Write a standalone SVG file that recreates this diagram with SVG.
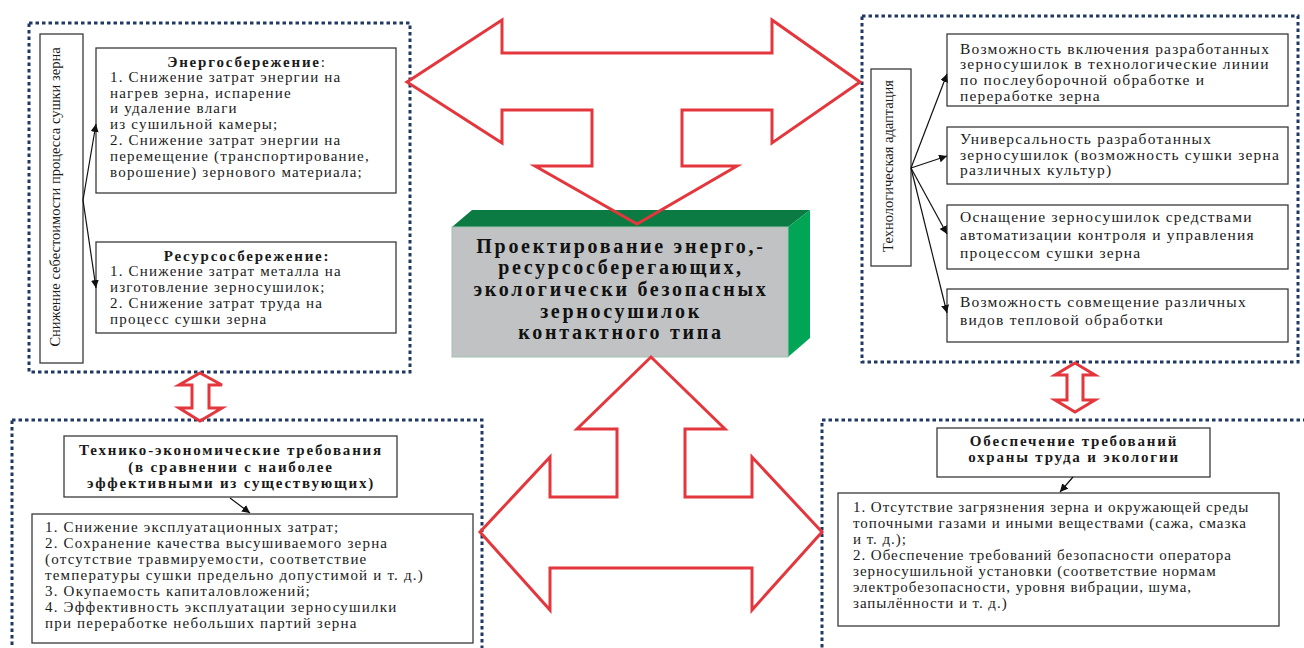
<svg xmlns="http://www.w3.org/2000/svg" width="1304" height="648" viewBox="0 0 1304 648">
<style>
.panel{fill:none;stroke:#1f3864;stroke-width:3;stroke-dasharray:3.5 3}
.box{fill:#fff;stroke:#3a3a3a;stroke-width:1.3}
.t{font-family:"Liberation Serif","Times New Roman",serif;font-size:15px;letter-spacing:1.2px;fill:#1a1a1a}
.ts{font-family:"Liberation Serif","Times New Roman",serif;font-size:15px;letter-spacing:0.95px;fill:#1a1a1a}
.tr{font-family:"Liberation Serif","Times New Roman",serif;font-size:15.5px;letter-spacing:1.2px;fill:#1a1a1a}
.v{font-family:"Liberation Serif","Times New Roman",serif;font-size:14.5px;fill:#1a1a1a;text-anchor:middle}
.h{font-family:"Liberation Serif","Times New Roman",serif;font-size:15px;font-weight:bold;letter-spacing:1.8px;fill:#1a1a1a;text-anchor:middle}
.big{font-family:"Liberation Serif","Times New Roman",serif;font-size:20px;font-weight:bold;fill:#111;text-anchor:middle;letter-spacing:2.7px}
.red{fill:none;stroke:#e3373d;stroke-width:3;stroke-linejoin:miter}
.con{stroke:#111;stroke-width:1.2;fill:none}
</style>
<defs>
<marker id="ah" viewBox="0 0 10 10" refX="10" refY="5" markerWidth="8" markerHeight="8" markerUnits="userSpaceOnUse" orient="auto">
<path d="M0,0 L10,5 L0,10 Z" fill="#111"/>
</marker>
</defs>
<rect width="1304" height="648" fill="#fff"/>

<g id="panel-top-left">
<rect class="panel" x="29" y="23" width="381" height="349"/>
<rect class="box" x="40" y="34" width="43" height="329"/>
<text class="v" transform="translate(60,197) rotate(-90)">Снижение себестоимости процесса сушки зерна</text>
</g>
<g id="node-energy">
<rect class="box" x="96" y="48" width="300" height="145"/>
<text class="h" x="247" y="67">Энергосбережение<tspan font-weight="normal">:</tspan></text>
<text class="t" x="110" y="82">1. Снижение затрат энергии на</text>
<text class="t" x="110" y="98">нагрев зерна, испарение</text>
<text class="t" x="110" y="113">и удаление влаги</text>
<text class="t" x="110" y="129">из сушильной камеры;</text>
<text class="t" x="110" y="145">2. Снижение затрат энергии на</text>
<text class="t" x="110" y="161">перемещение (транспортирование,</text>
<text class="t" x="110" y="177">ворошение) зернового материала;</text>
</g>
<g id="node-resource">
<rect class="box" x="96" y="242" width="300" height="91"/>
<text class="h" x="247" y="261">Ресурсосбережение:</text>
<text class="t" x="110" y="276">1. Снижение затрат металла на</text>
<text class="t" x="110" y="292">изготовление зерносушилок;</text>
<text class="t" x="110" y="308">2. Снижение затрат труда на</text>
<text class="t" x="110" y="324">процесс сушки зерна</text>
</g>

<g id="panel-top-right">
<rect class="panel" x="862" y="16" width="436" height="346"/>
<rect class="box" x="871" y="69" width="40" height="197"/>
<text class="v" transform="translate(893,166) rotate(-90)">Технологическая адаптация</text>
</g>
<g id="node-r1">
<rect class="box" x="947" y="34" width="341" height="72"/>
<text class="tr" x="960" y="54">Возможность включения разработанных</text>
<text class="tr" x="960" y="69">зерносушилок в технологические линии</text>
<text class="tr" x="960" y="85">по послеуборочной обработке и</text>
<text class="tr" x="960" y="101">переработке зерна</text>
</g>
<g id="node-r2">
<rect class="box" x="947" y="127" width="341" height="57"/>
<text class="tr" x="960" y="144">Универсальность разработанных</text>
<text class="tr" x="960" y="160">зерносушилок (возможность сушки зерна</text>
<text class="tr" x="960" y="175">различных культур)</text>
</g>
<g id="node-r3">
<rect class="box" x="947" y="205" width="341" height="64"/>
<text class="tr" x="960" y="222">Оснащение зерносушилок средствами</text>
<text class="tr" x="960" y="240">автоматизации контроля и управления</text>
<text class="tr" x="960" y="258">процессом сушки зерна</text>
</g>
<g id="node-r4">
<rect class="box" x="947" y="289" width="341" height="53"/>
<text class="tr" x="960" y="307">Возможность совмещение различных</text>
<text class="tr" x="960" y="325">видов тепловой обработки</text>
</g>

<g id="node-center">
<polygon points="452,227 472,210 810,210 788,227" fill="#0b7a43"/>
<polygon points="788,227 810,210 810,338 788,357" fill="#00a656"/>
<rect x="452" y="227" width="336" height="130" fill="#c0c2c4" stroke="#9fc4b0" stroke-width="1"/>
<text class="big" x="621" y="253">Проектирование энерго,-</text>
<text class="big" x="621" y="274">ресурсосберегающих,</text>
<text class="big" x="621" y="296">экологически безопасных</text>
<text class="big" x="621" y="318">зерносушилок</text>
<text class="big" x="621" y="339">контактного типа</text>
</g>

<g id="panel-bottom-left">
<rect class="panel" x="12" y="420" width="470" height="260"/>
</g>
<g id="node-tech-econ-title">
<rect class="box" x="64" y="436" width="333" height="61"/>
<text class="h" x="231" y="455">Технико-экономические требования</text>
<text class="h" x="231" y="472">(в сравнении с наиболее</text>
<text class="h" x="231" y="488">эффективными из существующих)</text>
</g>
<g id="node-tech-econ-list">
<rect class="box" x="32" y="514" width="441" height="129"/>
<text class="t" x="45" y="532">1. Снижение эксплуатационных затрат;</text>
<text class="t" x="45" y="548">2. Сохранение качества высушиваемого зерна</text>
<text class="t" x="45" y="564">(отсутствие травмируемости, соответствие</text>
<text class="t" x="45" y="580">температуры сушки предельно допустимой и т. д.)</text>
<text class="t" x="45" y="596">3. Окупаемость капиталовложений;</text>
<text class="t" x="45" y="612">4. Эффективность эксплуатации зерносушилки</text>
<text class="t" x="45" y="628">при переработке небольших партий зерна</text>
</g>

<g id="panel-bottom-right">
<rect class="panel" x="822" y="420" width="520" height="260"/>
</g>
<g id="node-safety-title">
<rect class="box" x="937" y="428" width="273" height="49"/>
<text class="h" x="1074" y="446">Обеспечение требований</text>
<text class="h" x="1074" y="462">охраны труда и экологии</text>
</g>
<g id="node-safety-list">
<rect class="box" x="838" y="493" width="441" height="133"/>
<text class="ts" x="853" y="512">1. Отсутствие загрязнения зерна и окружающей среды</text>
<text class="ts" x="853" y="528">топочными газами и иными веществами (сажа, смазка</text>
<text class="ts" x="853" y="544">и т. д.);</text>
<text class="ts" x="853" y="560">2. Обеспечение требований безопасности оператора</text>
<text class="ts" x="853" y="576">зерносушильной установки (соответствие нормам</text>
<text class="ts" x="853" y="592">электробезопасности, уровня вибрации, шума,</text>
<text class="ts" x="853" y="608">запылённости и т. д.)</text>
</g>

<g id="connectors">
<line class="con" x1="83" y1="200" x2="96" y2="124" marker-end="url(#ah)"/>
<line class="con" x1="83" y1="200" x2="96" y2="288" marker-end="url(#ah)"/>
<line class="con" x1="911" y1="168" x2="947" y2="74" marker-end="url(#ah)"/>
<line class="con" x1="911" y1="168" x2="947" y2="156" marker-end="url(#ah)"/>
<line class="con" x1="911" y1="168" x2="947" y2="234" marker-end="url(#ah)"/>
<line class="con" x1="911" y1="168" x2="947" y2="313" marker-end="url(#ah)"/>
<line class="con" x1="230" y1="498" x2="250" y2="513" marker-end="url(#ah)"/>
<line class="con" x1="1073" y1="477" x2="1060" y2="492" marker-end="url(#ah)"/>
<polygon class="red" points="407,82 502,20 502,53 772,53 772,20 860,82 772,143 772,110 682,110 682,166 737,166 637,224 535,166 592,166 592,110 502,110 502,143"/>
<polygon class="red" points="651,357 725,429 685,429 685,497 752,497 752,457 822,532 752,610 752,568 550,568 550,610 480,532 550,457 550,497 617,497 617,429 577,429"/>
<polygon class="red" points="200,373 222,385 209,385 209,408 222,408 200,421 179,408 192,408 192,385 179,385"/>
<polygon class="red" points="1075,363 1095,375 1083,375 1083,400 1095,400 1075,412 1055,400 1067,400 1067,375 1055,375"/>
</g>
</svg>
